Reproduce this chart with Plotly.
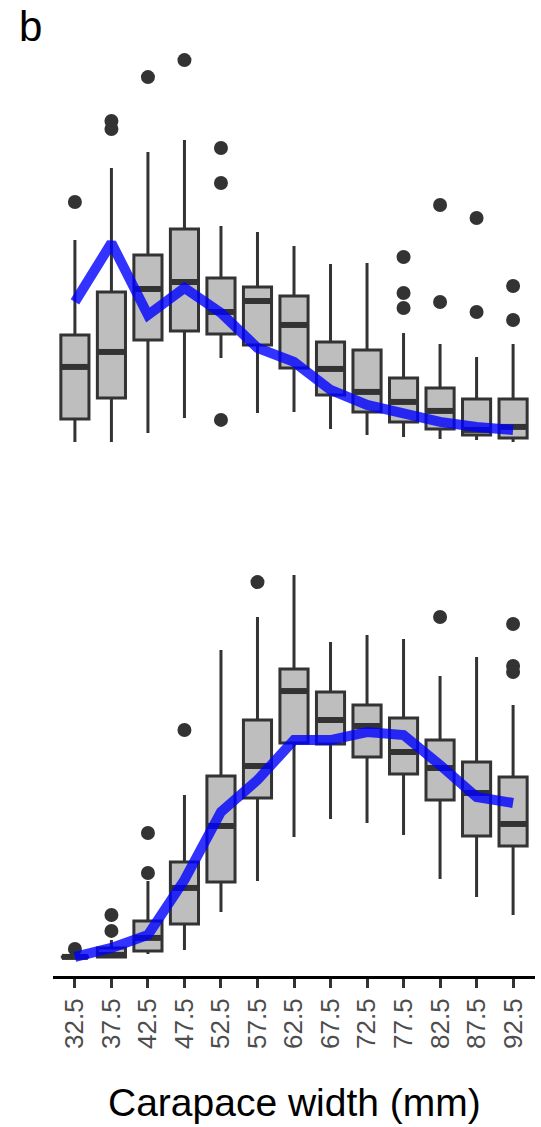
import plotly.graph_objects as go
from plotly.subplots import make_subplots

cats = ["32.5", "37.5", "42.5", "47.5", "52.5", "57.5", "62.5",
        "67.5", "72.5", "77.5", "82.5", "87.5", "92.5"]

# top panel (arbitrary units, shared scale with bottom panel)
top_low = [0, 0, 2.25, 6, 21, 7.25, 7.5, 3.25, 1.75, 1.25, 0.75, 0.5, 0]
top_q1 = [5.75, 11, 25.5, 27.75, 27, 24.25, 18.5, 11.75, 7.5, 5, 3.25, 1.75, 1]
top_med = [18.75, 22.5, 38.25, 40, 32.5, 35.25, 29.25, 18.25, 12.5, 10, 7.75, 3, 3.75]
top_q3 = [26.75, 37.5, 46.75, 53.25, 41, 38.75, 36.5, 25, 23, 16, 13.5, 10.75, 10.75]
top_up = [50.5, 68.5, 72.5, 75.5, 54, 52.5, 49, 44.5, 44.75, 27.25, 24.5, 21.25, 24.5]
top_out = [[60], [80.25, 78.25], [91.25], [95.5], [73.5, 64.75, 5.5], [], [], [], [],
           [46.25, 37.25, 33.5], [59.25, 35], [56, 32.5], [39, 30.5]]
top_line = [35, 49.75, 31.75, 38.5, 32.25, 23.5, 20, 13, 9.25, 7.25, 5, 3.75, 3]

# bottom panel
bot_low = [0, 0, 0.75, 1.75, 11.25, 19, 30, 34.5, 33.5, 30.5, 19.5, 15, 10.5]
bot_q1 = [0, 0, 1.5, 8.25, 18.75, 39.75, 53.5, 53.25, 50, 45.75, 39.25, 30.25, 27.75]
bot_med = [0, 0.5, 4.75, 17.25, 32.75, 47.75, 66.5, 59.25, 57.75, 51.25, 47.25, 41, 33.25]
bot_q3 = [0, 2.25, 9, 23.75, 45.25, 59.25, 72, 66.25, 63, 59.75, 54.25, 48.75, 45]
bot_up = [0, 4.25, 19, 40.5, 76.75, 85, 95.5, 78.75, 80.5, 79.5, 70.25, 75, 63]
bot_out = [[2], [10.5, 6.5], [31, 21], [56.75], [], [93.75], [], [], [], [], [85], [],
           [83.25, 72.75, 71.25]]
bot_line = [0, 2.25, 5.5, 19.25, 36.25, 44.25, 54.25, 54.25, 56.25, 55.5, 48, 40, 38.5]

BOXW = 0.77
DARK = "#333333"
FILL = "#BEBEBE"
FONT = "Liberation Sans, Arial, sans-serif"

fig = make_subplots(rows=2, cols=1, shared_xaxes=False, vertical_spacing=0.1)

pos = list(range(len(cats)))


def add_panel(row, low, q1, med, q3, up, outs, line):
    fig.add_trace(go.Box(
        x=pos, q1=q1, median=med, q3=q3, lowerfence=low, upperfence=up,
        width=BOXW, whiskerwidth=0, fillcolor=FILL,
        line=dict(color=DARK, width=3), boxpoints=False,
        showlegend=False, hoverinfo="skip"), row=row, col=1)
    mx, my = [], []
    for i, m in enumerate(med):
        mx += [i - BOXW / 2 + 0.03, i + BOXW / 2 - 0.03, None]
        my += [m, m, None]
    fig.add_trace(go.Scatter(x=mx, y=my, mode="lines",
                             line=dict(color=DARK, width=6),
                             showlegend=False, hoverinfo="skip"), row=row, col=1)
    ox, oy = [], []
    for i, vals in enumerate(outs):
        for v in vals:
            ox.append(i)
            oy.append(v)
    fig.add_trace(go.Scatter(x=ox, y=oy, mode="markers",
                             marker=dict(color=DARK, size=14),
                             showlegend=False, hoverinfo="skip"), row=row, col=1)
    fig.add_trace(go.Scatter(x=pos, y=line, mode="lines",
                             line=dict(color="rgba(0,0,255,0.8)", width=10),
                             showlegend=False, hoverinfo="skip"), row=row, col=1)


add_panel(1, top_low, top_q1, top_med, top_q3, top_up, top_out, top_line)
add_panel(2, bot_low, bot_q1, bot_med, bot_q3, bot_up, bot_out, bot_line)

top_t, bot_b = 41, 151
H = 1127
area = H - top_t - bot_b  # 935
top_dom = [(976 - 461) / area, 1.0]
bot_dom = [0.0, (976 - 556) / area]

yr = [-4.775, 100.275]
xr = [-0.6, 12.6]

fig.update_layout(
    width=541, height=H,
    margin=dict(l=53, r=6, t=top_t, b=bot_b),
    paper_bgcolor="white", plot_bgcolor="white",
    font=dict(family=FONT),
    xaxis=dict(range=xr, visible=False, showgrid=False, zeroline=False),
    yaxis=dict(range=yr, domain=top_dom, visible=False, showgrid=False, zeroline=False),
    xaxis2=dict(range=xr, showgrid=False, zeroline=False, showline=True,
                linecolor="black", linewidth=3,
                tickmode="array", tickvals=pos, ticktext=cats,
                ticks="outside", ticklen=9, tickwidth=3, tickcolor=DARK,
                tickangle=-90,
                tickfont=dict(size=26, color="#4D4D4D", family=FONT)),
    yaxis2=dict(range=yr, domain=bot_dom, visible=False, showgrid=False, zeroline=False),
)

fig.add_annotation(text="Carapace width (mm)", xref="paper", yref="paper",
                   x=0.5, y=(976 - 1102) / area, xanchor="center", yanchor="middle",
                   showarrow=False,
                   font=dict(size=39, color="black", family=FONT))
fig.add_annotation(text="b", xref="paper", yref="paper",
                   x=(30 - 53) / 482, y=(976 - 1) / area, xanchor="center", yanchor="top",
                   showarrow=False,
                   font=dict(size=42, color="black", family=FONT))

fig.write_html("out.html",
               config={"displayModeBar": False},
               post_script="document.body.style.margin='0';document.body.style.overflow='hidden';")
